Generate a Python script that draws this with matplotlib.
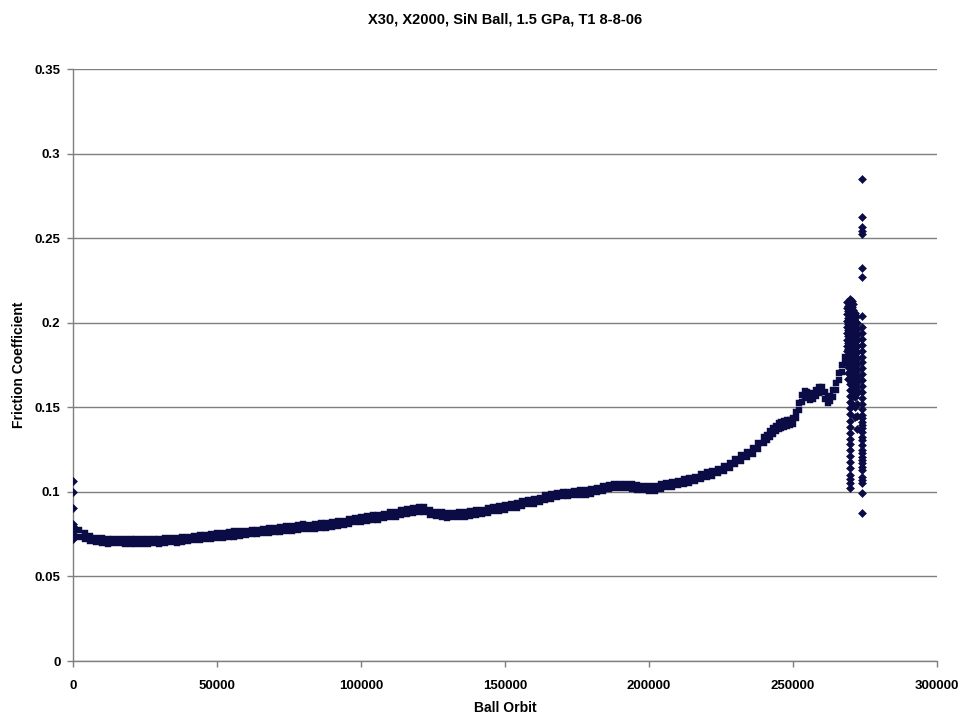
import numpy as np
import matplotlib
matplotlib.use("Agg")
import matplotlib.pyplot as plt
from matplotlib.ticker import FixedLocator

# ---- Friction test: X30 / X2000, SiN ball, 1.5 GPa, run T1 8-8-06 ----

# Band of the steady part of the run (upper and lower edge of the point cloud),
# read every 2000 ball orbits from 0 to 238000.
orbit_steady = np.arange(0, 240000, 2000)
friction_upper = [
    0.0795, 0.0777, 0.0758, 0.0741, 0.0730, 0.0727, 0.0722, 0.0723, 0.0724, 0.0719,
    0.0719, 0.0722, 0.0719, 0.0722, 0.0720, 0.0723, 0.0727, 0.0725, 0.0728, 0.0733,
    0.0734, 0.0741, 0.0746, 0.0745, 0.0749, 0.0755, 0.0755, 0.0760, 0.0766, 0.0766,
    0.0770, 0.0775, 0.0776, 0.0782, 0.0788, 0.0787, 0.0792, 0.0798, 0.0799, 0.0804,
    0.0809, 0.0807, 0.0810, 0.0815, 0.0815, 0.0821, 0.0828, 0.0830, 0.0838, 0.0847,
    0.0849, 0.0855, 0.0861, 0.0862, 0.0870, 0.0879, 0.0882, 0.0890, 0.0900, 0.0904,
    0.0910, 0.0908, 0.0890, 0.0882, 0.0880, 0.0875, 0.0877, 0.0881, 0.0880, 0.0886,
    0.0893, 0.0895, 0.0903, 0.0911, 0.0914, 0.0922, 0.0931, 0.0934, 0.0943, 0.0953,
    0.0957, 0.0966, 0.0981, 0.0987, 0.0994, 0.1000, 0.1001, 0.1006, 0.1011, 0.1011,
    0.1017, 0.1025, 0.1032, 0.1041, 0.1049, 0.1048, 0.1047, 0.1046, 0.1040, 0.1036,
    0.1033, 0.1034, 0.1045, 0.1055, 0.1059, 0.1066, 0.1076, 0.1080, 0.1090, 0.1105,
    0.1117, 0.1124, 0.1138, 0.1155, 0.1172, 0.1195, 0.1216, 0.1238, 0.1257, 0.1288,
]
friction_lower = [
    0.0735, 0.0733, 0.0722, 0.0711, 0.0703, 0.0700, 0.0694, 0.0696, 0.0696, 0.0692,
    0.0693, 0.0693, 0.0692, 0.0694, 0.0696, 0.0694, 0.0698, 0.0701, 0.0700, 0.0704,
    0.0708, 0.0715, 0.0714, 0.0720, 0.0722, 0.0728, 0.0727, 0.0733, 0.0736, 0.0739,
    0.0743, 0.0748, 0.0748, 0.0755, 0.0758, 0.0760, 0.0765, 0.0771, 0.0771, 0.0777,
    0.0779, 0.0780, 0.0783, 0.0788, 0.0787, 0.0794, 0.0798, 0.0803, 0.0811, 0.0820,
    0.0821, 0.0828, 0.0831, 0.0835, 0.0843, 0.0852, 0.0854, 0.0863, 0.0870, 0.0877,
    0.0883, 0.0881, 0.0862, 0.0855, 0.0852, 0.0848, 0.0850, 0.0854, 0.0852, 0.0859,
    0.0865, 0.0868, 0.0876, 0.0884, 0.0886, 0.0895, 0.0903, 0.0907, 0.0916, 0.0926,
    0.0929, 0.0939, 0.0953, 0.0960, 0.0967, 0.0973, 0.0973, 0.0979, 0.0983, 0.0984,
    0.0990, 0.0998, 0.1004, 0.1014, 0.1021, 0.1021, 0.1020, 0.1019, 0.1012, 0.1009,
    0.1005, 0.1007, 0.1018, 0.1028, 0.1031, 0.1039, 0.1048, 0.1053, 0.1063, 0.1078,
    0.1086, 0.1095, 0.1109, 0.1126, 0.1144, 0.1165, 0.1184, 0.1206, 0.1223, 0.1252,
]

# Run-in to failure, read every 1000 orbits from 240000 to 268000.
orbit_rise = np.arange(240000, 269000, 1000)
rise_upper = [
    0.1322, 0.1339, 0.1357, 0.1377, 0.1392, 0.1405, 0.1412, 0.1417, 0.1422, 0.1427,
    0.1437, 0.1475, 0.1525, 0.1570, 0.1598, 0.1589, 0.1577, 0.1585, 0.1602, 0.1617,
    0.1622, 0.1590, 0.1562, 0.1569, 0.1600, 0.1645, 0.1700, 0.1750, 0.1800,
]
rise_lower = [
    0.1288, 0.1305, 0.1323, 0.1343, 0.1358, 0.1371, 0.1378, 0.1383, 0.1388, 0.1393,
    0.1403, 0.1435, 0.1485, 0.1530, 0.1562, 0.1555, 0.1543, 0.1551, 0.1568, 0.1583,
    0.1588, 0.1550, 0.1528, 0.1535, 0.1560, 0.1605, 0.1660, 0.1710, 0.1760,
]

# Start-up transient at orbit 0
start_orbit = 0
start_friction = [0.1066, 0.0998, 0.0904, 0.0810, 0.0800, 0.0790, 0.0780, 0.0770,
                  0.0760, 0.0750, 0.0740, 0.0730, 0.0720]

# Unstable end of the test: readings grouped by orbit
end_orbit_a = 268800
end_friction_a = [0.2120, 0.2085, 0.2050, 0.2010, 0.1975, 0.1940, 0.1900, 0.1865,
                  0.1830, 0.1790, 0.1760]
end_orbit_g = 269200
end_friction_g = [0.2100, 0.2068, 0.2030, 0.1992, 0.1958, 0.1921, 0.1883, 0.1846,
                  0.1810, 0.1772, 0.1738, 0.1702, 0.1668]
end_orbit_b = 269800
end_friction_b = [0.2140, 0.2105, 0.2070, 0.2035, 0.1995, 0.1960, 0.1925, 0.1890,
                  0.1850, 0.1815, 0.1780, 0.1745, 0.1710, 0.1675, 0.1640, 0.1600,
                  0.1565, 0.1530, 0.1495, 0.1460, 0.1420, 0.1385, 0.1350, 0.1315,
                  0.1280, 0.1245, 0.1210, 0.1175, 0.1140, 0.1100, 0.1075, 0.1050,
                  0.1020]
end_orbit_c = 270600
end_friction_c = [0.2130, 0.2095, 0.2060, 0.2020, 0.1985, 0.1950, 0.1915, 0.1880,
                  0.1845, 0.1805, 0.1770, 0.1735, 0.1700, 0.1665, 0.1630, 0.1595,
                  0.1560, 0.1520]
end_orbit_h = 271000
end_friction_h = [0.2110, 0.2075, 0.2040, 0.2003, 0.1968, 0.1932, 0.1898, 0.1862,
                  0.1828, 0.1792, 0.1757, 0.1722, 0.1688, 0.1652, 0.1615, 0.1580]
end_orbit_d = 271500
end_friction_d = [0.2060, 0.2025, 0.1990, 0.1955, 0.1920, 0.1885, 0.1850, 0.1815,
                  0.1780, 0.1745, 0.1710, 0.1675, 0.1640, 0.1600, 0.1560, 0.1500,
                  0.1440]
end_orbit_i = 271900
end_friction_i = [0.2040, 0.2005, 0.1970, 0.1937, 0.1902, 0.1868, 0.1832, 0.1798,
                  0.1762, 0.1728, 0.1693, 0.1658, 0.1620, 0.1580]
end_orbit_e = 272300
end_friction_e = [0.2000, 0.1965, 0.1930, 0.1895, 0.1860, 0.1825, 0.1790, 0.1755,
                  0.1720, 0.1680, 0.1650, 0.1600, 0.1520, 0.1450, 0.1370]
end_orbit_f = 273800
end_friction_f = [0.2850, 0.2627, 0.2563, 0.2542, 0.2524, 0.2325, 0.2268, 0.2040,
                  0.1977, 0.1940, 0.1905, 0.1870, 0.1835, 0.1800, 0.1765, 0.1730,
                  0.1695, 0.1660, 0.1625, 0.1590, 0.1555, 0.1520, 0.1490, 0.1454,
                  0.1435, 0.1415, 0.1395, 0.1376, 0.1356, 0.1326, 0.1307, 0.1277,
                  0.1247, 0.1227, 0.1208, 0.1188, 0.1168, 0.1149, 0.1129, 0.1089,
                  0.1070, 0.1050, 0.0995, 0.0873]

x_ticks = [0, 50000, 100000, 150000, 200000, 250000, 300000]
x_tick_labels = ["0", "50000", "100000", "150000", "200000", "250000", "300000"]
y_ticks = [0, 0.05, 0.1, 0.15, 0.2, 0.25, 0.3, 0.35]
y_tick_labels = ["0", "0.05", "0.1", "0.15", "0.2", "0.25", "0.3", "0.35"]

title = "X30, X2000, SiN Ball, 1.5 GPa, T1 8-8-06"
x_label = "Ball Orbit"
y_label = "Friction Coefficient"

# ---- drawing ----
plt.rcParams["font.family"] = ["Liberation Sans", "DejaVu Sans"]
plt.rcParams["font.weight"] = "bold"

fig = plt.figure(figsize=(9.61, 7.17), dpi=100)
ax = fig.add_axes([73 / 961, 56 / 717, 864 / 961, 592 / 717])

point_color = "#0b0b45"
band_style = dict(linestyle="none", marker="s", markersize=4.6,
                  markerfacecolor=point_color, markeredgecolor=point_color,
                  markeredgewidth=0.3, zorder=3)
dot_style = dict(linestyle="none", marker="D", markersize=3.8,
                 markerfacecolor=point_color, markeredgecolor=point_color,
                 markeredgewidth=0.4, zorder=3)

ax.plot(orbit_steady, friction_upper, **band_style)
ax.plot(orbit_steady, friction_lower, **band_style)
ax.plot(orbit_rise, rise_upper, **band_style)
ax.plot(orbit_rise, rise_lower, **band_style)
ax.plot([start_orbit] * len(start_friction), start_friction, **dot_style)
for o, f in [(end_orbit_a, end_friction_a), (end_orbit_g, end_friction_g),
             (end_orbit_b, end_friction_b), (end_orbit_c, end_friction_c),
             (end_orbit_h, end_friction_h), (end_orbit_d, end_friction_d),
             (end_orbit_i, end_friction_i), (end_orbit_e, end_friction_e),
             (end_orbit_f, end_friction_f)]:
    ax.plot([o] * len(f), f, **dot_style)

ax.set_xlim(0, 300000)
ax.set_ylim(0, 0.35)
ax.xaxis.set_major_locator(FixedLocator(x_ticks))
ax.yaxis.set_major_locator(FixedLocator(y_ticks))
ax.set_xticklabels(x_tick_labels)
ax.set_yticklabels(y_tick_labels)

grid_color = "#7f7f7f"
ax.yaxis.grid(True, color=grid_color, linewidth=1.0, zorder=1)
ax.set_axisbelow(True)
for side in ("top", "right"):
    ax.spines[side].set_visible(False)
for side in ("left", "bottom"):
    ax.spines[side].set_color(grid_color)
    ax.spines[side].set_linewidth(1.0)

ax.tick_params(axis="both", direction="out", length=4, width=1.0, color=grid_color,
               labelsize=9.5, labelcolor="black")
ax.tick_params(axis="x", pad=10)
ax.tick_params(axis="y", pad=5)
for lbl in ax.get_xticklabels() + ax.get_yticklabels():
    lbl.set_fontweight("bold")

ax.set_title(title, fontsize=10.5, fontweight="bold", pad=33)
ax.set_xlabel(x_label, fontsize=10, fontweight="bold", labelpad=6)
ax.set_ylabel(y_label, fontsize=10, fontweight="bold", labelpad=6)

fig.savefig("out.png", dpi=100, facecolor="white")
